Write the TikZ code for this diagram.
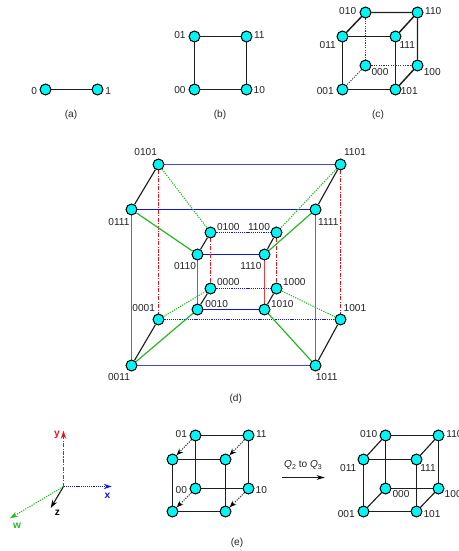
\documentclass[tikz,border=0pt]{standalone}
\usepackage{fontspec}
\setmainfont{Liberation Sans}
\usetikzlibrary{arrows.meta,backgrounds}
\definecolor{vfill}{RGB}{0,245,245}
\definecolor{ink}{RGB}{35,35,35}
\definecolor{edgegray}{RGB}{30,30,30}
\definecolor{dotgray}{RGB}{60,60,60}
\definecolor{bluea}{RGB}{20,20,225}
\definecolor{blueb}{RGB}{70,70,225}
\definecolor{redb}{RGB}{235,60,60}
\definecolor{reda}{RGB}{235,20,30}
\definecolor{greena}{RGB}{35,185,35}
\tikzset{
  vtx/.style={circle,draw=black,fill=vfill,line width=0.75pt,minimum size=8.2pt,inner sep=0pt},
  lab/.style={inner sep=0pt,font=\fontsize{7.6pt}{9pt}\selectfont,text=ink},
  axl/.style={inner sep=0pt,font=\fontsize{7.6pt}{9pt}\selectfont\bfseries},
  edge/.style={draw=edgegray,line width=1.1pt},
  dotblack/.style={draw=dotgray,line width=1pt,dash pattern=on 0.9pt off 0.9pt},
  bluesolid/.style={draw=bluea,line width=1.1pt},
  bluethick/.style={draw=blueb,line width=1.4pt},
  bluedot/.style={draw=bluea,line width=1pt,dash pattern=on 0.9pt off 0.7pt},
  redsolid/.style={draw=redb,line width=1.3pt},
  reddash/.style={draw=reda,line width=1pt,dash pattern=on 3pt off 1pt on 0.9pt off 1pt},
  greensolid/.style={draw=greena,line width=0.9pt},
  greendot/.style={draw=greena,line width=0.8pt,dash pattern=on 0.9pt off 0.9pt},
  shift arrow/.style={dotblack,line width=0.8pt,-{Stealth[length=5pt,width=4pt,black]}},
}
\newcommand{\qsub}[1]{{\itshape Q}\raisebox{-1.8pt}{\fontsize{5.2pt}{6pt}\selectfont #1}}
\begin{document}
\begin{tikzpicture}[x=0.75pt,y=-0.75pt]
\useasboundingbox (0,0) rectangle (458,551);
% (a)
\node[vtx] (a0) at (45.5,89.5) {};
\node[vtx] (a1) at (97.5,89.5) {};
\node[lab] (la0) at (34.3,91) {0};
\node[lab] (la1) at (108.3,91) {1};
\node[lab] (capa) at (71,115) {(a)};
% (b)
\node[vtx] (b00) at (194.5,89.5) {};
\node[vtx] (b10) at (246.5,89.5) {};
\node[vtx] (b01) at (194.5,36.5) {};
\node[vtx] (b11) at (246.5,36.5) {};
\node[lab] (lb01) at (180,35) {01};
\node[lab] (lb11) at (259.3,35) {11};
\node[lab] (lb00) at (180,90) {00};
\node[lab] (lb10) at (259.3,90.5) {10};
\node[lab] (capb) at (220,115) {(b)};
% (c)
\node[vtx] (c001) at (342.5,89.5) {};
\node[vtx] (c101) at (395.5,89.5) {};
\node[vtx] (c011) at (342.5,36.5) {};
\node[vtx] (c111) at (395.5,36.5) {};
\node[vtx] (c010) at (365.5,12.5) {};
\node[vtx] (c110) at (417.5,12.5) {};
\node[vtx] (c000) at (365.5,65.5) {};
\node[vtx] (c100) at (417.5,65.5) {};
\node[lab] (lc010) at (347.7,10.7) {010};
\node[lab] (lc110) at (433.3,10.7) {110};
\node[lab] (lc011) at (327.7,45.3) {011};
\node[lab] (lc111) at (407.3,45.3) {111};
\node[lab] (lc000) at (380,71.7) {000};
\node[lab] (lc100) at (432.3,71.7) {100};
\node[lab] (lc001) at (325.3,91.3) {001};
\node[lab] (lc101) at (409.3,91.3) {101};
\node[lab] (capc) at (378,115) {(c)};
% (d)
\node[vtx] (d0101) at (158.5,164.5) {};
\node[vtx] (d1101) at (340.5,164.5) {};
\node[vtx] (d0111) at (131.5,209.5) {};
\node[vtx] (d1111) at (315.5,209.5) {};
\node[vtx] (d0100) at (210.5,232.5) {};
\node[vtx] (d1100) at (276.5,232.5) {};
\node[vtx] (d0110) at (197.5,254.5) {};
\node[vtx] (d1110) at (264.5,254.5) {};
\node[vtx] (d0000) at (210.5,288.5) {};
\node[vtx] (d1000) at (276.5,288.5) {};
\node[vtx] (d0010) at (197.5,309.5) {};
\node[vtx] (d1010) at (264.5,309.5) {};
\node[vtx] (d0001) at (158.5,319.5) {};
\node[vtx] (d1001) at (340.5,319.5) {};
\node[vtx] (d0011) at (131.5,365.5) {};
\node[vtx] (d1011) at (315.5,365.5) {};
\node[lab] (ld0101) at (145.7,152) {0101};
\node[lab] (ld1101) at (355,152) {1101};
\node[lab] (ld0111) at (119,221.7) {0111};
\node[lab] (ld1111) at (328.3,221.7) {1111};
\node[lab] (ld0100) at (228.3,226.7) {0100};
\node[lab] (ld1100) at (259,226.7) {1100};
\node[lab] (ld0110) at (185,266) {0110};
\node[lab] (ld1110) at (251,266) {1110};
\node[lab] (ld0000) at (228.3,281.7) {0000};
\node[lab] (ld1000) at (294.3,281.7) {1000};
\node[lab] (ld0010) at (216.7,304) {0010};
\node[lab] (ld1010) at (282.3,304) {1010};
\node[lab] (ld0001) at (143.7,308.3) {0001};
\node[lab] (ld1001) at (355,308.3) {1001};
\node[lab] (ld0011) at (119,377.3) {0011};
\node[lab] (ld1011) at (326.7,377.3) {1011};
\node[lab] (capd) at (235.7,399) {(d)};
% (e) axes
\coordinate (orig) at (63.5,486.5);
\coordinate (ytip) at (63.5,430.7);
\coordinate (xtip) at (111.7,486.5);
\coordinate (ztip) at (50.7,508);
\coordinate (wtip) at (10,518.3);
\node[axl,text=reda] (ly) at (57,435) {y};
\node[axl,text=bluea] (lx) at (107.5,495.5) {x};
\node[axl,text=black] (lz) at (57.5,513) {z};
\node[axl,text=greena] (lw) at (17,525.5) {w};
% (e) Q2 pair
\node[vtx] (m01) at (195.5,435.5) {};
\node[vtx] (m11) at (248.5,435.5) {};
\node[vtx] (m00) at (195.5,488.5) {};
\node[vtx] (m10) at (248.5,488.5) {};
\node[vtx] (f01) at (172.5,459.5) {};
\node[vtx] (f11) at (225.5,459.5) {};
\node[vtx] (f00) at (172.5,511.5) {};
\node[vtx] (f10) at (225.5,511.5) {};
\node[lab] (lm01) at (181.3,434) {01};
\node[lab] (lm11) at (261.3,434) {11};
\node[lab] (lm00) at (181.3,490) {00};
\node[lab] (lm10) at (261.3,490) {10};
\node[lab] (cape) at (237,543) {(e)};
% (e) Q3
\node[vtx] (r010) at (385.5,435.5) {};
\node[vtx] (r110) at (438.5,435.5) {};
\node[vtx] (r011) at (363.5,459.5) {};
\node[vtx] (r111) at (416.5,459.5) {};
\node[vtx] (r000) at (385.5,488.5) {};
\node[vtx] (r100) at (438.5,488.5) {};
\node[vtx] (r001) at (363.5,511.5) {};
\node[vtx] (r101) at (416.5,511.5) {};
\node[lab] (lr010) at (368.7,434) {010};
\node[lab] (lr110) at (454.5,434) {110};
\node[lab] (lr011) at (348.3,468) {011};
\node[lab] (lr111) at (428,468) {111};
\node[lab] (lr000) at (401,494.3) {000};
\node[lab] (lr100) at (453.2,494.3) {100};
\node[lab] (lr001) at (346.3,513.7) {001};
\node[lab] (lr101) at (432,513.7) {101};
% transition arrow
\coordinate (ts) at (282,477.5);
\coordinate (te) at (324.7,477.5);
\node[lab] (ltr) at (303,465) {\qsub{2} to \qsub{3}};
\begin{scope}[on background layer]
  \draw[edge] (a0)--(a1);
  \draw[edge] (b00)--(b10)--(b11)--(b01)--(b00);
  % (c)
  \draw[edge] (c001)--(c101)--(c111)--(c011)--(c001);
  \draw[edge] (c011)--(c010)--(c110)--(c111);
  \draw[edge] (c110)--(c100)--(c101);
  \draw[dotblack] (c010)--(c000);
  \draw[dotblack] (c000)--(c100);
  \draw[dotblack,line width=0.7pt] (c000)--(c001);
  % (d) blue
  \draw[bluethick] (d0101)--(d1101);
  \draw[bluesolid] (d0111)--(d1111);
  \draw[bluesolid] (d0110)--(d1110);
  \draw[bluesolid] (d0010)--(d1010);
  \draw[bluethick] (d0011)--(d1011);
  \draw[bluedot] (d0100)--(d1100);
  \draw[bluedot] (d0000)--(d1000);
  \draw[bluedot] (d0001)--(d1001);
  % (d) red
  \draw[redsolid] (d0111)--(d0011);
  \draw[redsolid] (d1111)--(d1011);
  \draw[redsolid] (d0110)--(d0010);
  \draw[redsolid] (d1110)--(d1010);
  \draw[reddash] (d0101)--(d0001);
  \draw[reddash] (d1101)--(d1001);
  \draw[reddash] (d0100)--(d0000);
  \draw[reddash] (d1100)--(d1000);
  % (d) black
  \draw[edge,line width=0.85pt] (d0101)--(d0111);
  \draw[edge,line width=0.85pt] (d1101)--(d1111);
  \draw[edge,line width=0.85pt] (d0100)--(d0110);
  \draw[edge,line width=0.85pt] (d1100)--(d1110);
  \draw[edge,line width=0.85pt] (d0000)--(d0010);
  \draw[edge,line width=0.85pt] (d1000)--(d1010);
  \draw[edge,line width=0.85pt] (d0001)--(d0011);
  \draw[edge,line width=0.85pt] (d1001)--(d1011);
  % (d) green
  \draw[greensolid] (d0111)--(d0110);
  \draw[greensolid] (d1111)--(d1110);
  \draw[greensolid] (d0011)--(d0010);
  \draw[greensolid] (d1011)--(d1010);
  \draw[greendot] (d0101)--(d0100);
  \draw[greendot] (d1101)--(d1100);
  \draw[greendot] (d0001)--(d0000);
  \draw[greendot] (d1001)--(d1000);
  % axes
  \draw[reddash,line width=1.2pt,-{Stealth[length=6pt,width=4pt,reda]}] (orig)--(ytip);
  \draw[bluedot,-{Stealth[length=6pt,width=4pt,bluea]}] (orig)--(xtip);
  \draw[edge,line width=0.85pt,-{Stealth[length=6pt,width=4pt,black]}] (orig)--(ztip);
  \draw[greendot,-{Stealth[length=6pt,width=4pt,greena]}] (orig)--(wtip);
  % (e) Q2 pair
  \draw[edge] (m01)--(m11)--(m10)--(m00)--(m01);
  \draw[edge] (f01)--(f11)--(f10)--(f00)--(f01);
  \draw[shift arrow] (m01)--(f01);
  \draw[shift arrow] (m11)--(f11);
  \draw[shift arrow] (m00)--(f00);
  \draw[shift arrow] (m10)--(f10);
  % (e) Q3
  \draw[edge] (r001)--(r101)--(r111)--(r011)--(r001);
  \draw[edge] (r010)--(r110)--(r100)--(r000)--(r010);
  \draw[edge,line width=0.85pt] (r011)--(r010);
  \draw[edge,line width=0.85pt] (r111)--(r110);
  \draw[edge,line width=0.85pt] (r001)--(r000);
  \draw[edge,line width=0.85pt] (r101)--(r100);
  \draw[edge,-{Stealth[length=6pt,width=3.5pt,black]}] (ts)--(te);
\end{scope}
\end{tikzpicture}
\end{document}
